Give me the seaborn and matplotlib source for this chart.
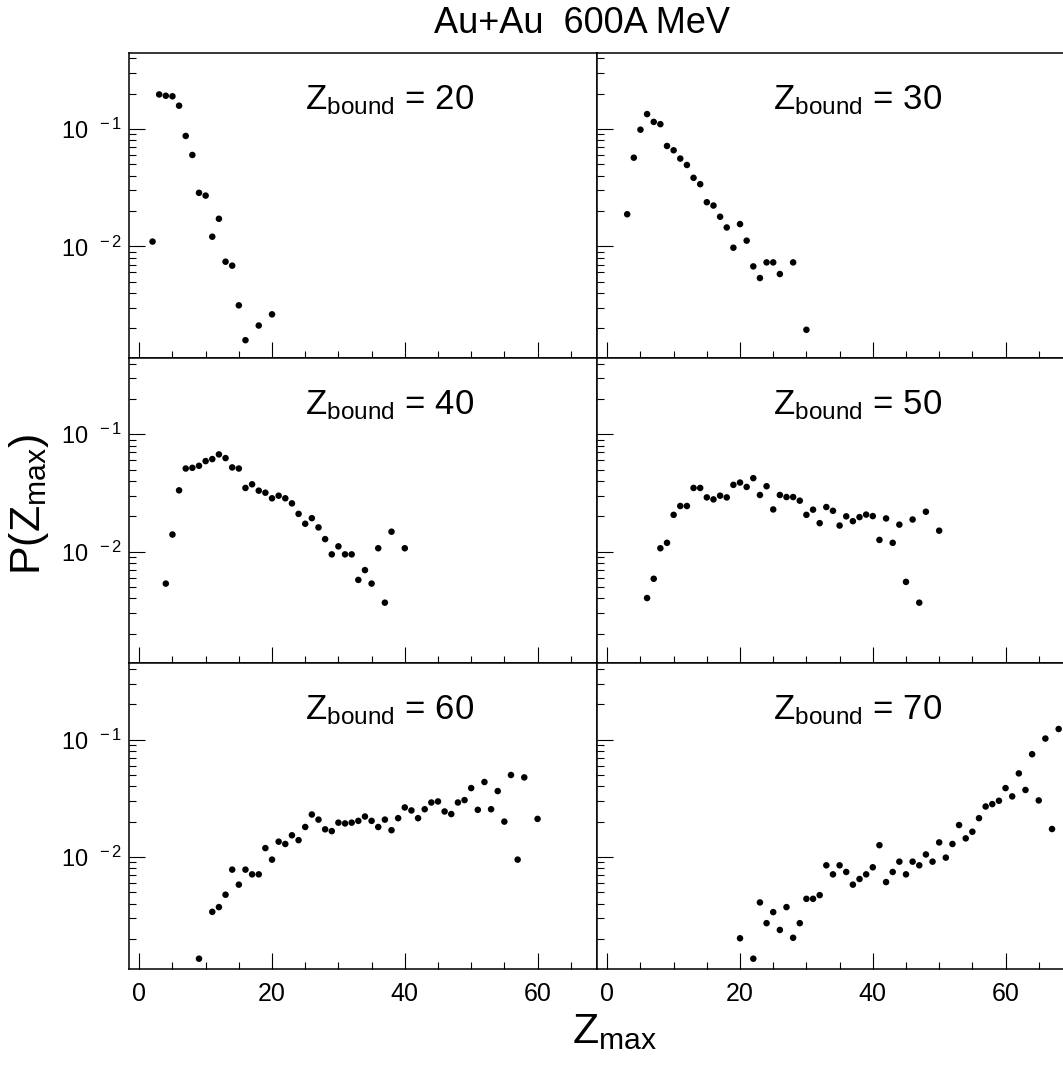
import numpy as np
import pandas as pd
import matplotlib
matplotlib.use("Agg")
import matplotlib.pyplot as plt
from matplotlib.ticker import FixedLocator, FixedFormatter, MultipleLocator, LogLocator, NullFormatter
import seaborn as sns

# ---------------- data ----------------
z20_x = [2, 3, 4, 5, 6, 7, 8, 9, 10, 11, 12, 13, 14, 15, 16, 18, 20]
z20_p = [0.0110, 0.197, 0.192, 0.190, 0.158, 0.0873, 0.0601, 0.0286, 0.0271, 0.0121,
         0.0172, 0.00741, 0.00686, 0.00315, 0.00159, 0.00212, 0.00264]

z30_x = [3, 4, 5, 6, 7, 8, 9, 10, 11, 12, 13, 14, 15, 16, 17, 18, 19, 20, 21, 22,
         23, 24, 25, 26, 28, 30]
z30_p = [0.0188, 0.0570, 0.0987, 0.134, 0.115, 0.110, 0.0717, 0.0659, 0.0560, 0.0494,
         0.0384, 0.0339, 0.0238, 0.0223, 0.0179, 0.0145, 0.00975, 0.0155, 0.0112, 0.00676,
         0.00538, 0.00731, 0.00731, 0.00582, 0.00731, 0.00195]

z40_x = [4, 5, 6, 7, 8, 9, 10, 11, 12, 13, 14, 15, 16, 17, 18, 19, 20, 21, 22, 23,
         24, 25, 26, 27, 28, 29, 30, 31, 32, 33, 34, 35, 36, 37, 38, 40]
z40_p = [0.00535, 0.0140, 0.0333, 0.0511, 0.0518, 0.0539, 0.0591, 0.0615, 0.0674, 0.0627,
         0.0522, 0.0511, 0.0349, 0.0375, 0.0331, 0.0318, 0.0285, 0.0300, 0.0285, 0.0258,
         0.0210, 0.0173, 0.0193, 0.0161, 0.0128, 0.00949, 0.0111, 0.00949, 0.00949, 0.00575,
         0.00697, 0.00535, 0.0107, 0.00368, 0.0148, 0.0107]

z50_x = [6, 7, 8, 9, 10, 11, 12, 13, 14, 15, 16, 17, 18, 19, 20, 21, 22, 23, 24, 25,
         26, 27, 28, 29, 30, 31, 32, 33, 34, 35, 36, 37, 38, 39, 40, 41, 42, 43, 44, 45,
         46, 47, 48, 50]
z50_p = [0.00403, 0.00588, 0.0107, 0.0119, 0.0206, 0.0245, 0.0245, 0.0349, 0.0349, 0.0290,
         0.0279, 0.0300, 0.0290, 0.0371, 0.0388, 0.0356, 0.0423, 0.0304, 0.0361, 0.0229,
         0.0304, 0.0292, 0.0292, 0.0272, 0.0206, 0.0228, 0.0175, 0.0240, 0.0223, 0.0167,
         0.0200, 0.0182, 0.0197, 0.0207, 0.0201, 0.0126, 0.0192, 0.0119, 0.0170, 0.00553,
         0.0188, 0.00368, 0.0219, 0.0151]

z60_x = [9, 11, 12, 13, 14, 15, 16, 17, 18, 19, 20, 21, 22, 23, 24, 25, 26, 27, 28, 29,
         30, 31, 32, 33, 34, 35, 36, 37, 38, 39, 40, 41, 42, 43, 44, 45, 46, 47, 48, 49,
         50, 51, 52, 53, 54, 55, 56, 57, 58, 60]
z60_p = [0.00136, 0.00341, 0.00374, 0.00477, 0.00780, 0.00581, 0.00780, 0.00711, 0.00711, 0.0119,
         0.00949, 0.0135, 0.0129, 0.0153, 0.0139, 0.0180, 0.0230, 0.0208, 0.0172, 0.0166,
         0.0196, 0.0193, 0.0196, 0.0203, 0.0221, 0.0203, 0.0180, 0.0208, 0.0169, 0.0214,
         0.0264, 0.0249, 0.0214, 0.0255, 0.0291, 0.0297, 0.0244, 0.0232, 0.0291, 0.0305,
         0.0386, 0.0252, 0.0435, 0.0255, 0.0364, 0.0200, 0.0499, 0.00949, 0.0476, 0.0211]

z70_x = [20, 22, 23, 24, 25, 26, 27, 28, 29, 30, 31, 32, 33, 34, 35, 36, 37, 38, 39, 40,
         41, 42, 43, 44, 45, 46, 47, 48, 49, 50, 51, 52, 53, 54, 55, 56, 57, 58, 59, 60,
         61, 62, 63, 64, 65, 66, 67, 68]
z70_p = [0.00203, 0.00136, 0.00410, 0.00273, 0.00339, 0.00239, 0.00374, 0.00205, 0.00273, 0.00440,
         0.00440, 0.00473, 0.00849, 0.00711, 0.00849, 0.00745, 0.00581, 0.00649, 0.00711, 0.00817,
         0.0126, 0.00611, 0.00745, 0.00912, 0.00711, 0.00912, 0.00849, 0.0105, 0.00912, 0.0133,
         0.00987, 0.0129, 0.0187, 0.0144, 0.0164, 0.0214, 0.0269, 0.0282, 0.0301, 0.0386,
         0.0328, 0.0515, 0.0372, 0.0750, 0.0303, 0.102, 0.0173, 0.123]

zbound = [20, 30, 40, 50, 60, 70]
series_x = [z20_x, z30_x, z40_x, z50_x, z60_x, z70_x]
series_p = [z20_p, z30_p, z40_p, z50_p, z60_p, z70_p]

x_ticks = [0, 20, 40, 60]
x_ticklabels = ["0", "20", "40", "60"]
y_ticks = [0.01, 0.1]
y_ticklabels = [r"$\mathregular{10^{\ \ -2}}$", r"$\mathregular{10^{\ \ -1}}$"]

title = "Au+Au  600A MeV"

# ---------------- style ----------------
sns.set_style("ticks")
plt.rcParams["font.family"] = ["Liberation Sans", "DejaVu Sans"]
plt.rcParams["mathtext.fontset"] = "custom"
plt.rcParams["mathtext.rm"] = "Liberation Sans"
plt.rcParams["mathtext.it"] = "Liberation Sans:italic"
plt.rcParams["mathtext.bf"] = "Liberation Sans:bold"
plt.rcParams["text.color"] = "black"
plt.rcParams["axes.labelcolor"] = "black"
plt.rcParams["xtick.color"] = "black"
plt.rcParams["ytick.color"] = "black"

W, H = 1063, 1066
fig, axes = plt.subplots(3, 2, figsize=(W / 100, H / 100), dpi=100)
fig.subplots_adjust(left=129.3 / W, right=1065.3 / W, top=1 - 52.7 / H,
                    bottom=1 - 968.5 / H, wspace=0, hspace=0)

for i, ax in enumerate(axes.flat):
    df = pd.DataFrame({"Zmax": series_x[i], "P": series_p[i]})
    sns.scatterplot(data=df, x="Zmax", y="P", ax=ax, color="black", s=22,
                    edgecolor="none", linewidth=0)
    ax.set_yscale("log")
    ax.set_xlim(-1.5, 69.0)
    ax.set_ylim(10 ** -2.95, 10 ** -0.35)
    ax.set_xlabel("")
    ax.set_ylabel("")
    ax.xaxis.set_major_locator(FixedLocator(x_ticks))
    ax.xaxis.set_minor_locator(MultipleLocator(5))
    ax.yaxis.set_major_locator(FixedLocator(y_ticks))
    ax.yaxis.set_minor_locator(LogLocator(base=10, subs=np.arange(2, 10)))
    ax.yaxis.set_minor_formatter(NullFormatter())
    row, col = divmod(i, 2)
    if row == 2:
        ax.xaxis.set_major_formatter(FixedFormatter(x_ticklabels))
    else:
        ax.xaxis.set_major_formatter(NullFormatter())
    if col == 0:
        ax.yaxis.set_major_formatter(FixedFormatter(y_ticklabels))
    else:
        ax.yaxis.set_major_formatter(NullFormatter())
    ax.tick_params(axis="both", which="major", direction="in", length=11.5, width=0.8,
                   color="black", labelcolor="black", top=False, right=False)
    ax.tick_params(axis="both", which="minor", direction="in", length=5, width=0.8,
                   color="black", top=False, right=False)
    ax.tick_params(axis="x", which="major", pad=10, labelsize=18)
    ax.tick_params(axis="y", which="major", pad=5, labelsize=17)
    for sp in ax.spines.values():
        sp.set_visible(True)
        sp.set_linewidth(1.1)
        sp.set_color("black")
    ax.text(0.376, 0.815, r"$\mathrm{Z}_{\mathrm{bound}}$ = %d" % zbound[i],
            transform=ax.transAxes, ha="left", va="baseline", fontsize=25,
            color="black")

fig.text(581.5 / W, 1 - 33 / H, title, ha="center", va="baseline", fontsize=26,
         color="black")
fig.text(571.7 / W, 1 - 1043 / H, r"$\mathrm{Z}_{\mathrm{max}}$", ha="left",
         va="baseline", fontsize=31, color="black")
fig.text(29 / W, 1 - 504 / H, r"P($\mathrm{Z}_{\mathrm{max}}$)", ha="center",
         va="center", rotation=90, fontsize=31, color="black")

fig.savefig("out.png", dpi=100)
